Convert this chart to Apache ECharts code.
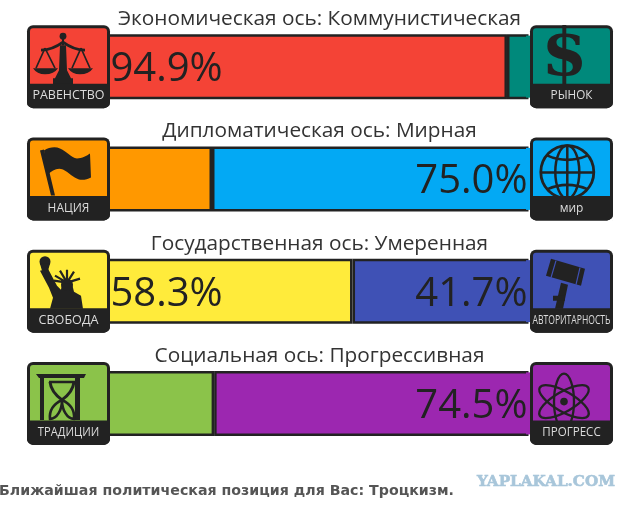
<!DOCTYPE html>
<html><head><meta charset="utf-8">
<style>html,body{margin:0;padding:0;background:#fff}#c{width:640px;height:512px}</style>
<script src="https://cdn.jsdelivr.net/npm/echarts@6/dist/echarts.min.js"></script>
</head><body><div id="c"></div>
<script>
const axisTitles = ['Экономическая ось: Коммунистическая','Дипломатическая ось: Мирная','Государственная ось: Умеренная','Социальная ось: Прогрессивная'];
const categories = ['econ','dipl','govt','scty'];
const leftValues = [94.9, 25.0, 58.3, 25.5];
const rightValues = [5.1, 75.0, 41.7, 74.5];
const leftColors = ['#f44336','#ff9800','#ffeb3b','#8bc34a'];
const rightColors = ['#00897b','#03a9f4','#3f51b5','#9c27b0'];
const leftCaptions = ['РАВЕНСТВО','НАЦИЯ','СВОБОДА','ТРАДИЦИИ'];
const rightCaptions = ['РЫНОК','МИР','АВТОРИТАРНОСТЬ','ПРОГРЕСС'];
const leftIcons = ['scales','flag','liberty','hourglass'];
const rightIcons = ['dollar','globe','gavel','atom'];
const footerText = 'Ближайшая политическая позиция для Вас: Троцкизм.';
const watermarkText = 'YAPLAKAL.COM';

const DARK = '#222222';
const F = {fill: DARK};
const path = (d, style) => ({type:'path', shape:{pathData:'M0 0h.01M83 83h.01'+d, x:0,y:0,width:83,height:83, layout:'cover'}, style});
const line = (d, w, c) => path(d, {fill:'none', stroke:c||DARK, lineWidth:w||2.5});
const circle = (cx,cy,r,style) => ({type:'circle', shape:{cx,cy,r}, style});
const ring = (cx,cy,rx,ry,rot,w) => ({type:'group', x:cx, y:cy, rotation:rot, children:[{type:'ellipse', shape:{cx:0,cy:0,rx,ry}, style:{fill:'none',stroke:DARK,lineWidth:w}}]});

const icons = {
  scales: () => [
    path('M33 20L39 20L40 45L44 53L46 53L46 60L26 60L26 53L28 53L32 45Z', F),
    circle(36,11,3.4,F),
    path('M35 11H37V20H35Z', F),
    line('M14 25Q25 25 36 17Q47 25 58 25', 2.8),
    line('M18 23L9 43M18 23L28 43M54 23L45 43M54 23L63 43', 1.6),
    path('M6 43L31 43Q27 49 18 49Q10 49 6 43Z', F),
    path('M41 43L66 43Q62 49 53 49Q45 49 41 43Z', F)
  ],
  flag: () => [
    path('M13 13L17 12L28 58L24 58Z', F),
    path('M17 13C22 10 28 9 33 11C40 14 44 20 50 21C55 21 60 18 63 16L64 40C60 42 56 43 52 42C46 40 42 35 36 32C30 30 25 33 21 37Z', F)
  ],
  liberty: () => [
    circle(18,12,5.5,F),
    path('M13 21L21 19L30 36L34 40L35 34L45 34L47 42L54 46L56 59L23 59L26 48L22 38Z', F),
    path('M13 14L23 14L21 21L15 21Z', F),
    circle(40,35,6,F),
    line('M40 33L28 26M40 33L33 21M40 33L40 20M40 33L47 22M40 33L53 29M40 33L27 31', 2.2)
  ],
  hourglass: () => [
    path('M9 12H59L57 16H12Z', F),
    path('M13 16H17V58H13ZM48 16H53V58H48Z', F),
    line('M22 20H48', 2.5),
    line('M23 20Q24 30 35 38Q46 30 47 20', 3),
    line('M35 38C27 42 22 48 23 57C30 57 35 48 35 38C35 48 40 57 47 57C48 48 43 42 35 38', 2.6)
  ],
  dollar: () => [
    {type:'text', style:{text:'$', x:34.5, y:33, font:'bold 66px "DejaVu Serif"', fill:DARK, align:'center', verticalAlign:'middle'}}
  ],
  globe: () => [
    circle(37.3,34.7,26.5,{fill:'none',stroke:DARK,lineWidth:2.8}),
    {type:'ellipse', shape:{cx:37.3,cy:34.7,rx:12,ry:26.5}, style:{fill:'none',stroke:DARK,lineWidth:2.5}},
    line('M37.3 8V61M11 35H64', 2.5),
    line('M17 18Q37 27 58 18M17 52Q37 43 58 52', 2.5)
  ],
  gavel: (c) => [
    path('M21 9L55 19L51 36L16 26Z', F),
    line('M26 11L21 28M50 18L46 35', 1.2, c),
    path('M31 33L38 35L33 59L25 59Z', F),
    path('M23 46L35 46L35 51L23 51Z', F)
  ],
  atom: () => [
    ring(34,39.7,28,10,Math.PI/2,2.3),
    ring(34,39.7,28,10,Math.PI/6,2.3),
    ring(34,39.7,28,10,-Math.PI/6,2.3),
    circle(34,39.7,3.8,F)
  ]
};

const captionScale = {'РАВЕНСТВО':0.96,'НАЦИЯ':0.92,'СВОБОДА':0.97,'ТРАДИЦИИ':0.86,'РЫНОК':0.9,'МИР':0.92,'АВТОРИТАРНОСТЬ':0.66,'ПРОГРЕСС':0.89};

function badge(x, y, color, iconName, caption) {
  const label = caption === 'МИР' ? 'мир' : caption;
  return {type:'group', x, y, children:[
    {type:'rect', shape:{x:0,y:0,width:83,height:83,r:6}, style:{fill:DARK}},
    {type:'rect', shape:{x:3,y:3,width:77,height:58,r:[3,3,0,0]}, style:{fill:color}},
    ...icons[iconName](color),
    {type:'rect', shape:{x:0,y:58.5,width:83,height:24.5,r:[0,0,6,6]}, style:{fill:DARK}},
    {type:'text', x:41.5, y:70.5, scaleX:captionScale[caption],
      style:{text:label, x:0, y:0, fill:'#dcdcdc', font:'13px "Open Sans"', align:'center', verticalAlign:'middle'}}
  ]};
}

const chart = echarts.init(document.getElementById('c'), null, {renderer:'canvas'});
const segLabel = (pos, dist) => ({
  show:true, position:pos, distance:dist, offset:[0,3], color:'#222', fontFamily:'"Open Sans"', fontSize:40,
  formatter: p => p.value >= 30 ? p.value.toFixed(1)+'%' : ''
});
const seg = (name, values, colors, pos, dist) => ({
  name, type:'bar', stack:'axis', barWidth:65, silent:true,
  data: values.map((v,i) => ({value:v, itemStyle:{color:colors[i]}})),
  itemStyle:{borderColor:DARK, borderWidth:2.5},
  label:segLabel(pos,dist)
});

chart.setOption({
  animation:false,
  backgroundColor:'#fff',
  grid:{left:106.5, right:111.5, top:10.5, height:449},
  xAxis:{type:'value', min:0, max:100, show:false},
  yAxis:{type:'category', data:categories, inverse:true, show:false},
  series:[
    seg('left', leftValues, leftColors, 'insideLeft', 4),
    seg('right', rightValues, rightColors, 'insideRight', 1),
    {
      type:'custom', silent:true, z:5, clip:false,
      coordinateSystem:'cartesian2d',
      data:categories.map((c,i)=>[0,i]),
      encode:{x:0,y:1},
      renderItem:(params, api) => {
        const i = params.dataIndex;
        const a = api.coord([0,i]), b = api.coord([100,i]);
        return {type:'group', children:[
          {type:'rect', shape:{x:b[0]-2.5, y:a[1]-31, width:5, height:62}, style:{fill:rightColors[i]}},
          badge(a[0]-79.5, a[1]-41.5, leftColors[i], leftIcons[i], leftCaptions[i]),
          badge(b[0]+1.5, a[1]-41.5, rightColors[i], rightIcons[i], rightCaptions[i]),
          {type:'text', style:{text:axisTitles[i], x:319.5, y:a[1]-47.5, fill:'#333', font:'20.8px "Open Sans"', align:'center', verticalAlign:'middle'}}
        ]};
      }
    }
  ],
  graphic:[
    {type:'text', style:{text:footerText, x:-1, y:491, fill:'#555', font:'bold 14.2px "DejaVu Sans"', textAlign:'left', textVerticalAlign:'middle'}},
    {type:'text', style:{text:watermarkText, x:477, y:482, fill:'#a8c6da', stroke:'#a8c6da', lineWidth:0.6, font:'bold 15.2px "DejaVu Serif"', textAlign:'left', textVerticalAlign:'middle'}}
  ]
});
</script></body></html>
